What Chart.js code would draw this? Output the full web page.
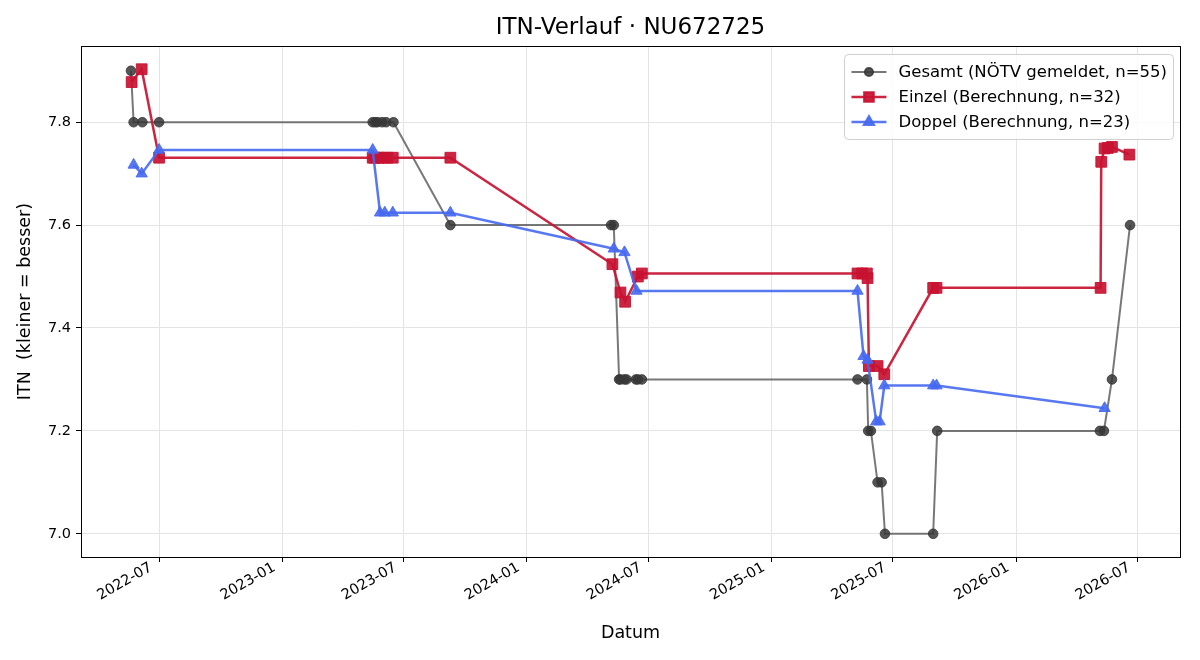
<!DOCTYPE html>
<html>
<head>
<meta charset="utf-8">
<title>ITN-Verlauf</title>
<script src="https://cdn.jsdelivr.net/npm/chart.js"></script>
<style>
  html, body { margin: 0; padding: 0; background: #fff; }
  #wrap { width: 1200px; height: 660px; }
</style>
</head>
<body>
<div id="wrap"><canvas id="c" width="1200" height="660"></canvas></div>
<script>
// Daten
const gesamtDates = ['2022-05-20', '2022-05-24', '2022-06-06', '2022-07-01',
    '2023-05-16', '2023-05-20', '2023-05-23', '2023-05-30', '2023-06-05', '2023-06-16', '2023-09-09',
    '2024-05-06', '2024-05-10', '2024-05-18', '2024-05-20', '2024-05-26', '2024-05-29', '2024-06-12', '2024-06-15', '2024-06-21',
    '2025-05-09', '2025-05-23', '2025-05-25', '2025-05-29', '2025-06-08', '2025-06-14', '2025-06-19', '2025-08-30', '2025-09-05',
    '2026-05-06', '2026-05-12', '2026-05-24', '2026-06-20'];
const gesamtITN = [7.9, 7.8, 7.8, 7.8,
    7.8, 7.8, 7.8, 7.8, 7.8, 7.8, 7.6,
    7.6, 7.6, 7.3, 7.3, 7.3, 7.3, 7.3, 7.3, 7.3,
    7.3, 7.3, 7.2, 7.2, 7.1, 7.1, 7.0, 7.0, 7.2,
    7.2, 7.2, 7.3, 7.6];

const einzelDates = ['2022-05-21', '2022-06-05', '2022-07-01',
    '2023-05-16', '2023-05-19', '2023-05-25', '2023-05-31', '2023-06-07', '2023-06-15', '2023-09-09',
    '2024-05-08', '2024-05-20', '2024-05-27', '2024-06-15', '2024-06-21',
    '2025-05-09', '2025-05-16', '2025-05-23', '2025-05-24', '2025-05-26', '2025-06-08', '2025-06-18', '2025-08-30', '2025-09-04',
    '2026-05-07', '2026-05-08', '2026-05-13', '2026-05-18', '2026-05-24', '2026-06-19'];
const einzelITN = [7.878, 7.903, 7.731,
    7.731, 7.731, 7.731, 7.731, 7.731, 7.731, 7.731,
    7.524, 7.469, 7.451, 7.500, 7.506,
    7.506, 7.506, 7.506, 7.497, 7.326, 7.326, 7.310, 7.478, 7.478,
    7.478, 7.723, 7.749, 7.750, 7.752, 7.737];

const doppelDates = ['2022-05-24', '2022-06-05', '2022-07-01',
    '2023-05-16', '2023-05-27', '2023-06-03', '2023-06-15', '2023-09-09',
    '2024-05-10', '2024-05-26', '2024-06-13',
    '2025-05-09', '2025-05-18', '2025-05-24', '2025-06-06', '2025-06-11', '2025-06-18', '2025-08-30', '2025-09-04',
    '2026-05-13'];
const doppelITN = [7.717, 7.700, 7.746,
    7.746, 7.624, 7.624, 7.624, 7.624,
    7.554, 7.547, 7.472,
    7.472, 7.345, 7.338, 7.218, 7.218, 7.288, 7.288, 7.288,
    7.244];

const xTickLabels = ['2022-07', '2023-01', '2023-07', '2024-01', '2024-07', '2025-01', '2025-07', '2026-01', '2026-07'];
const yTicks = [7.0, 7.2, 7.4, 7.6, 7.8];

const seriesLabels = ['Gesamt (NÖTV gemeldet, n=55)', 'Einzel (Berechnung, n=32)', 'Doppel (Berechnung, n=23)'];

function toTs(s) {
    const p = s.split('-').map(Number);
    return Date.UTC(p[0], p[1] - 1, p[2] || 1);
}

function toPoints(dates, values) {
    return dates.map((d, i) => ({ x: toTs(d), y: values[i] }));
}

// Achsengrenzen wie matplotlib: 5 % Rand um die Daten
const allX = [].concat(gesamtDates, einzelDates, doppelDates).map(toTs);
const allY = [].concat(gesamtITN, einzelITN, doppelITN);
const xMinD = Math.min(...allX), xMaxD = Math.max(...allX);
const yMinD = Math.min(...allY), yMaxD = Math.max(...allY);
const xPad = (xMaxD - xMinD) * 0.05;
const yPad = (yMaxD - yMinD) * 0.05;

const FONT = "'DejaVu Sans', sans-serif";

const styles = [
    { color: 'rgba(68,68,68,0.72)', point: 'rgba(55,55,55,0.85)', style: 'circle', radius: 4.8, width: 2 },
    { color: 'rgba(200,18,50,0.92)', point: 'rgba(200,18,50,0.92)', style: 'rect', radius: 7.6, width: 2.5 },
    { color: 'rgba(70,105,240,0.9)', point: 'rgba(70,105,240,0.9)', style: 'triangle', radius: 6.5, width: 2.5 }
];

const framePlugin = {
    id: 'frame',
    afterDraw(chart) {
        const a = chart.chartArea;
        const ctx = chart.ctx;
        ctx.save();
        ctx.strokeStyle = '#000';
        ctx.lineWidth = 1;
        ctx.strokeRect(Math.round(a.left) + 0.5, Math.round(a.top) + 0.5,
            Math.round(a.right - a.left), Math.round(a.bottom - a.top));
        ctx.restore();
    }
};

// Legende innerhalb des Diagramms oben rechts
const innerLegend = {
    id: 'innerLegend',
    afterDraw(chart) {
        const a = chart.chartArea;
        const ctx = chart.ctx;
        ctx.save();
        ctx.font = '16.5px ' + FONT;
        const textW = Math.max(...seriesLabels.map(t => ctx.measureText(t).width));
        const w = 7 + 35 + 12 + textW + 6;
        const h = 85;
        const x0 = a.right - 7 - w;
        const y0 = a.top + 8;

        ctx.fillStyle = 'rgba(255,255,255,0.8)';
        ctx.strokeStyle = '#d0d0d0';
        ctx.lineWidth = 1;
        ctx.beginPath();
        ctx.roundRect(Math.round(x0) + 0.5, Math.round(y0) + 0.5, Math.round(w), h, 4);
        ctx.fill();
        ctx.stroke();

        seriesLabels.forEach((label, i) => {
            const s = styles[i];
            const cy = y0 + 18 + i * 25;
            ctx.strokeStyle = s.color;
            ctx.lineWidth = s.width;
            ctx.beginPath();
            ctx.moveTo(x0 + 7, cy);
            ctx.lineTo(x0 + 42, cy);
            ctx.stroke();
            ctx.fillStyle = s.point;
            ctx.strokeStyle = s.point;
            Chart.helpers.drawPoint(ctx, {
                pointStyle: s.style,
                radius: s.radius * 0.85,
                rotation: 0,
                borderWidth: 1
            }, x0 + 24.5, cy);
            ctx.fillStyle = '#000';
            ctx.textBaseline = 'middle';
            ctx.textAlign = 'left';
            ctx.fillText(label, x0 + 54, cy + 1);
        });
        ctx.restore();
    }
};

const datasets = [
    [gesamtDates, gesamtITN],
    [einzelDates, einzelITN],
    [doppelDates, doppelITN]
].map(([d, v], i) => {
    const s = styles[i];
    return {
        label: seriesLabels[i],
        data: toPoints(d, v),
        borderColor: s.color,
        backgroundColor: s.point,
        pointBackgroundColor: s.point,
        pointBorderColor: s.point,
        pointBorderWidth: 1,
        pointStyle: s.style,
        pointRadius: s.radius,
        borderWidth: s.width,
        tension: 0,
        order: 2 - i
    };
});

new Chart(document.getElementById('c'), {
    type: 'line',
    data: { datasets: datasets },
    plugins: [framePlugin, innerLegend],
    options: {
        responsive: false,
        animation: false,
        layout: { padding: { left: 0, right: 20, top: 0, bottom: 0 } },
        plugins: {
            legend: { display: false },
            tooltip: { enabled: false },
            title: {
                display: true,
                fullSize: false,
                text: 'ITN-Verlauf · NU672725',
                color: '#000',
                font: { family: FONT, size: 23, weight: 'normal' },
                padding: { top: 14, bottom: 4.4 }
            }
        },
        scales: {
            x: {
                type: 'linear',
                min: xMinD - xPad,
                max: xMaxD + xPad,
                afterBuildTicks: scale => {
                    scale.ticks = xTickLabels.map(l => ({ value: toTs(l + '-01') }));
                },
                afterFit: scale => { scale.height = 103; },
                ticks: {
                    color: '#000',
                    font: { family: FONT, size: 14.5 },
                    minRotation: 30,
                    maxRotation: 30,
                    padding: -3,
                    labelOffset: -8,
                    autoSkip: false,
                    callback: function (value) {
                        const d = new Date(value);
                        return d.getUTCFullYear() + '-' + String(d.getUTCMonth() + 1).padStart(2, '0');
                    }
                },
                grid: {
                    color: '#e4e4e4',
                    lineWidth: 1,
                    tickColor: '#000',
                    tickLength: 5,
                    drawTicks: true
                },
                border: { display: true, color: '#000', width: 1 },
                title: {
                    display: true,
                    text: 'Datum',
                    color: '#000',
                    font: { family: FONT, size: 17.5 },
                    padding: { top: 16.5, bottom: 16.5 }
                }
            },
            y: {
                min: yMinD - yPad,
                max: yMaxD + yPad,
                afterBuildTicks: scale => {
                    scale.ticks = yTicks.map(v => ({ value: v }));
                },
                afterFit: scale => { scale.width = 81; },
                ticks: {
                    color: '#000',
                    font: { family: FONT, size: 14.5 },
                    padding: 5,
                    callback: v => Number(v).toFixed(1)
                },
                grid: {
                    color: '#e4e4e4',
                    lineWidth: 1,
                    tickColor: '#000',
                    tickLength: 5,
                    drawTicks: true
                },
                border: { display: true, color: '#000', width: 1 },
                title: {
                    display: true,
                    text: 'ITN  (kleiner = besser)',
                    color: '#000',
                    font: { family: FONT, size: 17.5 },
                    padding: { top: 14.5, bottom: 14.5 }
                }
            }
        }
    }
});
</script>
</body>
</html>
